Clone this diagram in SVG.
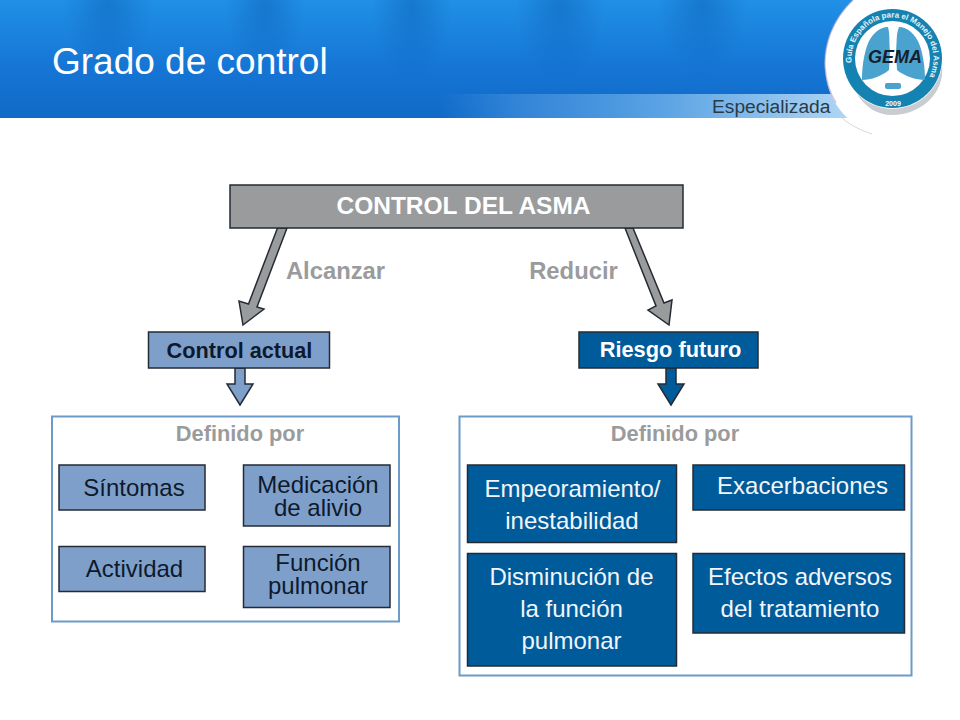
<svg xmlns="http://www.w3.org/2000/svg" width="960" height="720" viewBox="0 0 960 720">
<style>
text{font-family:"Liberation Sans",Arial,sans-serif;text-anchor:middle}
.b{stroke:#252b35;stroke-width:1.5}
.g{fill:#9a9b9d}
.l{fill:#7f9fcb}
.d{fill:#005b9a}
.p{fill:#fff;stroke:#6c9bc9;stroke-width:2}
.t{font-size:24px}
.dk{fill:#0d1a2c}
.w{fill:#f2f6fa}
.lb{font-size:23.800px;font-weight:700;fill:#9a9b9d}
.df{font-size:21.800px;font-weight:700;fill:#9a9b9d}
.a{stroke:#252b35;stroke-width:1.5;stroke-linejoin:miter}
.lung{fill:#4aa3cf}
</style>
<defs>
<linearGradient id="hdr" x1="0" y1="0" x2="0" y2="1">
<stop offset="0" stop-color="#2090e6"/>
<stop offset=".6" stop-color="#1574d4"/>
<stop offset="1" stop-color="#106ac6"/>
</linearGradient>
<radialGradient id="streak">
<stop offset="0" stop-color="#0c5cb4" stop-opacity=".45"/>
<stop offset="1" stop-color="#0c5cb4" stop-opacity="0"/>
</radialGradient>
<linearGradient id="band" x1="0" y1="0" x2="1" y2="0">
<stop offset="0" stop-color="#3d8cdc" stop-opacity="0"/>
<stop offset=".2" stop-color="#3d8cdc" stop-opacity=".8"/>
<stop offset=".55" stop-color="#5ca4e4"/>
<stop offset="1" stop-color="#b0d6f4"/>
</linearGradient>
<path id="arcTop" d="M851.700 62.800A41 41 0 1 1 923.900 84.900"/>
</defs>

<g id="header">
<rect width="960" height="118" fill="url(#hdr)"/>
<ellipse cx="108" cy="5" rx="45" ry="70" fill="url(#streak)"/>
<ellipse cx="265" cy="5" rx="40" ry="70" fill="url(#streak)"/>
<ellipse cx="412" cy="5" rx="40" ry="75" fill="url(#streak)"/>
<ellipse cx="560" cy="5" rx="45" ry="75" fill="url(#streak)"/>
<ellipse cx="702" cy="5" rx="45" ry="70" fill="url(#streak)"/>
<rect x="440" y="94" width="410" height="24" fill="url(#band)"/>
<path d="M853 0C832 20 824 45 825 67C826 90 836 118 872 134L960 134V0Z" fill="#fff"/>
<path d="M853 0C832 20 824 45 825 67C826 80 829 92 836 103" fill="none" stroke="#a79fc4" stroke-width="1.500" stroke-opacity=".6"/>
<path d="M842 118C850 125 860 130 872 134" fill="none" stroke="#d5d8dc" stroke-width="1"/>
<text x="52" y="74" font-size="37" fill="#fff" style="text-anchor:start">Grado de control</text>
<text x="712" y="113" font-size="19.200" fill="#2a3a48" style="text-anchor:start">Especializada</text>
</g>

<g id="logo">
<path d="M857 94A50 50 0 0 0 942 66C945 92 922 115 892 115C877 115 865 107 857 94Z" fill="#c9ccd0"/>
<circle cx="892.500" cy="58.500" r="49.500" fill="#1583b2"/>
<circle cx="892.500" cy="58.500" r="37.500" fill="#fff"/>
<path d="M888 27C880 27 871 34 867 46C863 58 862 70 862 80C871 80 882 76 889 70L890 52C889 42 890 34 888 27Z" class="lung"/>
<path d="M899 27C907 27 916 34 920 46C924 58 925 70 925 80C916 80 904 76 897 70L896 52C897 42 896 34 899 27Z" class="lung"/>
<rect x="885" y="83" width="16" height="6" rx="2" class="lung"/>
<text x="895" y="63" font-size="18" font-weight="700" font-style="italic" fill="#16202c">GEMA</text>
<text font-size="8" font-weight="700" fill="#e8f2f8" style="text-anchor:start"><textPath href="#arcTop">Guía Española para el Manejo del Asma</textPath></text>
<text x="893" y="106" font-size="7" font-weight="700" fill="#fff">2009</text>
</g>

<g id="connectors">
<path class="a g" d="M277.500 228L287 228L257 307L264 309L243 325L239 301L248.500 304Z"/>
<path class="a g" d="M625 228L633 228L664 303L672 300L669 325L648 310L656 306Z"/>
<path class="a l" d="M235 368H245V384H253L240 405L227 384H235Z"/>
<path class="a d" d="M666 368H676V384H684L671 405L658 384H666Z"/>
</g>

<g id="control-asma">
<rect class="b g" x="230" y="185" width="453" height="43"/>
<text x="463.500" y="214" font-size="24.500" font-weight="700" fill="#fff">CONTROL DEL ASMA</text>
</g>
<g id="label-alcanzar"><text class="lb" x="335.500" y="279">Alcanzar</text></g>
<g id="label-reducir"><text class="lb" x="573.500" y="279">Reducir</text></g>

<g id="control-actual">
<rect class="b l" x="148.500" y="332" width="181" height="36"/>
<text x="239.500" y="358" font-size="21.700" font-weight="700" class="dk">Control actual</text>
</g>
<g id="riesgo-futuro">
<rect class="b d" x="579" y="332" width="179" height="36"/>
<text x="670.500" y="357" font-size="21.800" font-weight="700" fill="#fff">Riesgo futuro</text>
</g>

<g id="panel-izquierdo">
<rect class="p" x="52" y="416.500" width="347" height="205"/>
<text class="df" x="240" y="441">Definido por</text>
</g>
<g id="panel-derecho">
<rect class="p" x="459.500" y="416.500" width="452" height="259"/>
<text class="df" x="675" y="441">Definido por</text>
</g>

<g id="sintomas">
<rect class="b l" x="59" y="465" width="146" height="45"/>
<text class="t dk" x="134" y="496">Síntomas</text>
</g>
<g id="medicacion">
<rect class="b l" x="243.500" y="465" width="146.500" height="61"/>
<text class="t dk" x="318" y="493">Medicación</text>
<text class="t dk" x="318" y="516">de alivio</text>
</g>
<g id="actividad">
<rect class="b l" x="59" y="546.500" width="146" height="45"/>
<text class="t dk" x="134.500" y="577">Actividad</text>
</g>
<g id="funcion">
<rect class="b l" x="243.500" y="546.500" width="146.500" height="61"/>
<text class="t dk" x="318" y="571">Función</text>
<text class="t dk" x="318" y="594">pulmonar</text>
</g>

<g id="empeoramiento">
<rect class="b d" x="467.500" y="465" width="209" height="77.500"/>
<text class="t w" x="572.500" y="497">Empeoramiento/</text>
<text class="t w" x="572" y="529">inestabilidad</text>
</g>
<g id="exacerbaciones">
<rect class="b d" x="693" y="465" width="211.500" height="45"/>
<text class="t w" x="802.500" y="494">Exacerbaciones</text>
</g>
<g id="disminucion">
<rect class="b d" x="467.500" y="553.500" width="209" height="112.500"/>
<text class="t w" x="571.500" y="585">Disminución de</text>
<text class="t w" x="571.500" y="617">la función</text>
<text class="t w" x="571.500" y="649">pulmonar</text>
</g>
<g id="efectos">
<rect class="b d" x="693" y="553.500" width="211.500" height="79.500"/>
<text class="t w" x="800" y="585">Efectos adversos</text>
<text class="t w" x="800" y="617">del tratamiento</text>
</g>
</svg>
